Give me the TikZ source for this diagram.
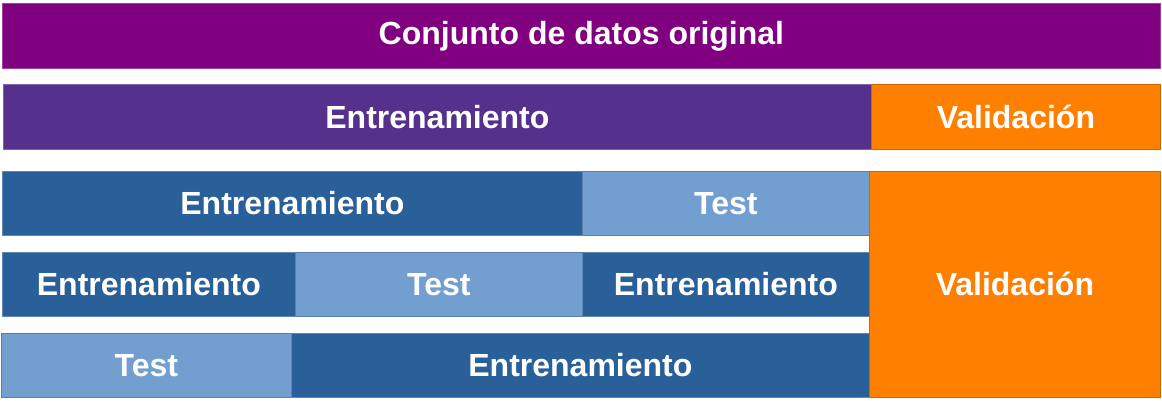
\documentclass[tikz,border=0pt]{standalone}
\usepackage{fontspec}
\setmainfont{Liberation Sans}
\usepackage{tikz}

\definecolor{origpurple}{HTML}{800080}
\definecolor{trainpurple}{HTML}{55308D}
\definecolor{valorange}{HTML}{FF8000}
\definecolor{traindark}{HTML}{2A6099}
\definecolor{testlight}{HTML}{729FCF}

\tikzset{
  block/.style={rectangle, anchor=north west, inner sep=0pt, text=white,
    font=\fontsize{32}{32}\selectfont\bfseries, line width=0.8pt},
  origbox/.style={block, fill=origpurple, draw=origpurple!75!white},
  trainbox/.style={block, fill=trainpurple, draw=trainpurple!75!white},
  valbox/.style={block, fill=valorange, draw=valorange!80!black},
  darkbox/.style={block, fill=traindark, draw=traindark!75!white},
  lightbox/.style={block, fill=testlight, draw=testlight!80!black},
}

\begin{document}
\begin{tikzpicture}[x=1pt, y=-1pt]
  \useasboundingbox (0,0) rectangle (1162,400);

  \node[origbox, minimum width=1158pt, minimum height=65pt] (orig) at (2,3) {Conjunto de datos original};

  \node[trainbox, minimum width=868pt, minimum height=65pt] (train) at (3,84) {Entrenamiento};
  \node[valbox, minimum width=289pt, minimum height=65pt] (val) at (871,84) {Validación};

  \node[darkbox, minimum width=580pt, minimum height=64pt] (trainA) at (2,171) {Entrenamiento};
  \node[lightbox, minimum width=287pt, minimum height=64pt] (testA) at (582,171) {Test};

  \node[darkbox, minimum width=293pt, minimum height=64pt] (trainB) at (2,252) {Entrenamiento};
  \node[lightbox, minimum width=287pt, minimum height=64pt] (testB) at (295,252) {Test};
  \node[darkbox, minimum width=287pt, minimum height=64pt] (trainC) at (582,252) {Entrenamiento};

  \node[lightbox, minimum width=290pt, minimum height=64pt] (testC) at (1,333) {Test};
  \node[darkbox, minimum width=578pt, minimum height=64pt] (trainD) at (291,333) {Entrenamiento};

  \node[valbox, minimum width=291pt, minimum height=226pt] (valbig) at (869,171) {Validación};
\end{tikzpicture}
\end{document}
